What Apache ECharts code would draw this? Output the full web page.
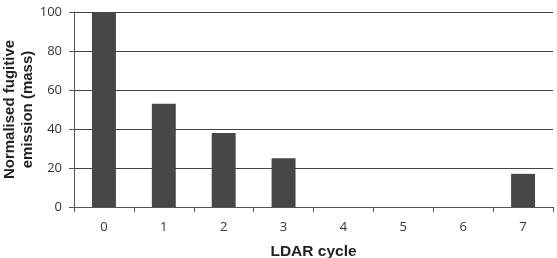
<!DOCTYPE html>
<html>
<head>
<meta charset="utf-8">
<script src="https://cdn.jsdelivr.net/npm/echarts@6/dist/echarts.min.js"></script>
<style>
  html, body { margin: 0; padding: 0; background: #fff; }
  #chart { width: 557px; height: 258px; }
</style>
</head>
<body>
<div id="chart"></div>
<script>
// LDAR cycles and normalised emission values
const cycles = ['0', '1', '2', '3', '4', '5', '6', '7'];
const emission = [100, 53, 38, 25, 0, 0, 0, 17];
const yTicks = [0, 20, 40, 60, 80, 100];

const chart = echarts.init(document.getElementById('chart'));

const option = {
    animation: false,
    grid: {
        left: 74,
        right: 4,
        top: 12,
        bottom: 51,
        containLabel: false,
        outerBoundsMode: 'none',
    },
    xAxis: {
        type: 'category',
        data: cycles,
        name: 'LDAR cycle',
        nameLocation: 'middle',
        nameGap: 37,
        nameTextStyle: {
            fontFamily: 'Liberation Sans, Arial, sans-serif',
            fontSize: 15.5,
            fontWeight: 'bold',
            color: '#222',
        },
        axisLine: { lineStyle: { color: '#555', width: 1 } },
        axisTick: { show: true, length: 5, lineStyle: { color: '#555' } },
        axisLabel: {
            fontFamily: 'Open Sans, sans-serif',
            fontSize: 13,
            color: '#333',
            margin: 14,
        },
    },
    yAxis: {
        type: 'value',
        min: yTicks[0],
        max: yTicks[yTicks.length - 1],
        interval: 20,
        name: 'Normalised fugitive\nemission (mass)',
        nameLocation: 'middle',
        nameGap: 37,
        nameMoveOverlap: false,
        nameTextStyle: {
            fontFamily: 'Liberation Sans, Arial, sans-serif',
            fontSize: 15,
            fontWeight: 'bold',
            color: '#222',
            lineHeight: 18,
        },
        axisLine: { show: true, lineStyle: { color: '#555', width: 1 } },
        axisTick: { show: true, length: 5, lineStyle: { color: '#555' } },
        axisLabel: {
            fontFamily: 'Open Sans, sans-serif',
            fontSize: 13,
            color: '#333',
            margin: 12,
        },
        splitLine: { show: true, lineStyle: { color: '#444', width: 1 } },
    },
    series: [
        {
            type: 'bar',
            data: emission,
            barWidth: '40%',
            itemStyle: {
                color: '#474747',
            },
        },
    ],
};

chart.setOption(option);
</script>
</body>
</html>
